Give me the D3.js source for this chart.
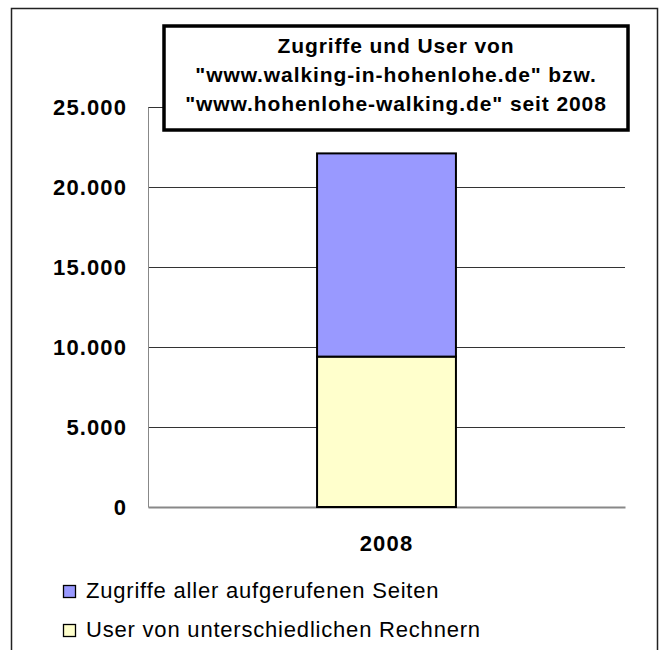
<!DOCTYPE html>
<html>
<head>
<meta charset="utf-8">
<script src="https://cdn.jsdelivr.net/npm/d3@7"></script>
<style>
  body { margin: 0; background: #fff; }
  svg { display: block; font-family: "Liberation Sans", Arial, sans-serif; }
</style>
</head>
<body>
<svg id="chart" width="665" height="650"></svg>
<script>
const years = ["2008"];
const userValues = [9400];
const zugriffeValues = [12700];
const yTicks = [0, 5000, 10000, 15000, 20000, 25000];
const seriesNames = ["Zugriffe aller aufgerufenen Seiten", "User von unterschiedlichen Rechnern"];
const titleLines = [
  "Zugriffe und User von",
  "\"www.walking-in-hohenlohe.de\" bzw.",
  "\"www.hohenlohe-walking.de\" seit 2008"
];

const SVG = d3.select("#chart");
const MARGIN = { top: 107, left: 148, right: 40, bottom: 143 };
const WIDTH = 665, HEIGHT = 650;
const INNERWIDTH = WIDTH - MARGIN.left - MARGIN.right;
const INNERHEIGHT = HEIGHT - MARGIN.top - MARGIN.bottom;

const BLUE = "#9999ff";
const YELLOW = "#ffffcc";

// outer frame (open at the bottom)
SVG.append("path")
  .attr("d", "M11.5,650 V8.5 H657.5 V650")
  .attr("fill", "none")
  .attr("stroke", "#222")
  .attr("stroke-width", 1.5);

const g = SVG.append("g")
  .attr("transform", "translate(" + MARGIN.left + "," + MARGIN.top + ")");

const xScale = d3.scaleBand().domain(years).range([0, INNERWIDTH]).padding(0.549);
const yScale = d3.scaleLinear().domain([0, 25000]).range([INNERHEIGHT, 0]);

// gridlines
g.selectAll(".grid")
  .data(yTicks.filter((d) => d > 0))
  .join("line")
  .attr("class", "grid")
  .attr("x1", 0)
  .attr("x2", INNERWIDTH)
  .attr("y1", (d) => Math.round(yScale(d)) + 0.5)
  .attr("y2", (d) => Math.round(yScale(d)) + 0.5)
  .attr("stroke", "#333")
  .attr("stroke-width", 1);

// axes
const fmt = (d) => d3.format(",")(d).replace(/,/g, ".");
const yAxis = g.append("g")
  .call(d3.axisLeft(yScale).tickValues(yTicks).tickSize(0).tickPadding(21).tickFormat(fmt));
yAxis.select(".domain").attr("stroke", "#888");
yAxis.selectAll("text")
  .attr("font-size", 22)
  .attr("font-weight", "bold")
  .attr("letter-spacing", 1.1)
  .attr("fill", "#000")
  .attr("font-family", "Liberation Sans, Arial, sans-serif");

const xAxis = g.append("g")
  .attr("transform", "translate(0," + INNERHEIGHT + ")")
  .call(d3.axisBottom(xScale).tickSize(0).tickPadding(28));
xAxis.select(".domain").attr("stroke", "#888").attr("stroke-width", 2);
xAxis.selectAll("text")
  .attr("font-size", 22)
  .attr("font-weight", "bold")
  .attr("letter-spacing", 1.2)
  .attr("fill", "#000")
  .attr("font-family", "Liberation Sans, Arial, sans-serif");

// stacked bars
const table = years.map((y, i) => ({ year: y, user: userValues[i], zugriffe: zugriffeValues[i] }));
const stack = d3.stack().keys(["user", "zugriffe"])(table);
const colors = { user: YELLOW, zugriffe: BLUE };

g.selectAll(".layer")
  .data(stack)
  .join("g")
  .attr("class", "layer")
  .attr("fill", (d) => colors[d.key])
  .selectAll("rect")
  .data((d) => d)
  .join("rect")
  .attr("x", (d) => xScale(d.data.year))
  .attr("width", xScale.bandwidth())
  .attr("y", (d) => yScale(d[1]))
  .attr("height", (d) => yScale(d[0]) - yScale(d[1]))
  .attr("stroke", "#000")
  .attr("stroke-width", 2);

// title box
const title = SVG.append("g");
title.append("rect")
  .attr("x", 164)
  .attr("y", 26)
  .attr("width", 464)
  .attr("height", 104)
  .attr("fill", "#fff")
  .attr("stroke", "#000")
  .attr("stroke-width", 3.5);
title.selectAll("text")
  .data(titleLines)
  .join("text")
  .attr("x", 396)
  .attr("y", (d, i) => 53 + i * 29)
  .attr("text-anchor", "middle")
  .attr("font-size", 21)
  .attr("font-weight", "bold")
  .attr("letter-spacing", 0.9)
  .text((d) => d);

// legend
const legend = SVG.append("g").attr("transform", "translate(63,585)");
const legendColors = [BLUE, YELLOW];
const items = legend.selectAll("g")
  .data(seriesNames)
  .join("g")
  .attr("transform", (d, i) => "translate(0," + i * 39 + ")");
items.append("rect")
  .attr("x", 0.5)
  .attr("y", 0.5)
  .attr("width", 12)
  .attr("height", 12)
  .attr("fill", (d, i) => legendColors[i])
  .attr("stroke", "#000")
  .attr("stroke-width", 1.3);
items.append("text")
  .attr("x", 23)
  .attr("y", 12.5)
  .attr("font-size", 22)
  .attr("letter-spacing", 0.8)
  .text((d) => d);
</script>
</body>
</html>
